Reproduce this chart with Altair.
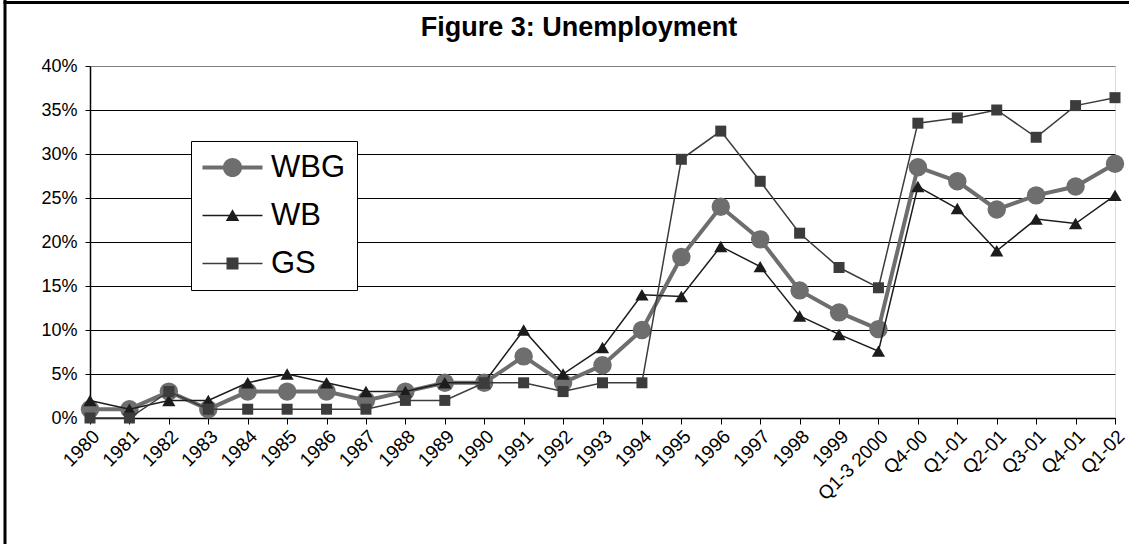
import altair as alt
import pandas as pd

categories = ["1980", "1981", "1982", "1983", "1984", "1985", "1986", "1987", "1988", "1989",
              "1990", "1991", "1992", "1993", "1994", "1995", "1996", "1997", "1998", "1999",
              "Q1-3 2000", "Q4-00", "Q1-01", "Q2-01", "Q3-01", "Q4-01", "Q1-02"]
wbg = [1, 1, 3, 1, 3, 3, 3, 2, 3, 4, 4, 7, 4, 6, 10, 18.3, 24.0, 20.3, 14.5, 12.0, 10.1,
       28.5, 26.9, 23.7, 25.3, 26.3, 28.9]
wb = [2, 1, 2, 2, 4, 5, 4, 3, 3, 4, 4, 10, 5, 8, 14, 13.8, 19.5, 17.2, 11.6, 9.5, 7.6,
      26.3, 23.8, 19.0, 22.6, 22.1, 25.3]
gs = [0, 0, 3, 1, 1, 1, 1, 1, 2, 2, 4, 4, 3, 4, 4, 29.4, 32.6, 26.9, 21.0, 17.1, 14.8,
      33.5, 34.1, 35.0, 31.9, 35.5, 36.4]
series_names = ["WBG", "WB", "GS"]
y_ticks = [0, 5, 10, 15, 20, 25, 30, 35, 40]
title_text = "Figure 3: Unemployment"

colors = {"WBG": "#6e6e6e", "WB": "#1c1c1c", "GS": "#3c3c3c"}
line_widths = {"WBG": 4, "WB": 1.5, "GS": 1.5}
shapes = {"WBG": "circle", "WB": "triangle-up", "GS": "square"}
sizes = {"WBG": 340, "WB": 175, "GS": 121}

# legend symbols: line + marker, drawn as filled paths (unit = 15 px)
legend_paths = [
    "M-1,-0.14H3V0.14H-1Z M0.36,0 A0.64,0.64 0 1,1 1.64,0 A0.64,0.64 0 1,1 0.36,0Z",
    "M-1,-0.05H3V0.05H-1Z M1,-0.42 L1.45,0.36 L0.55,0.36Z",
    "M-1,-0.05H3V0.05H-1Z M0.6,-0.4 H1.4 V0.4 H0.6Z",
]

rows = []
for name, vals in zip(series_names, [wbg, wb, gs]):
    for i, (c, v) in enumerate(zip(categories, vals)):
        rows.append({"series": name, "cat": c, "idx": i, "value": v})
df = pd.DataFrame(rows)

FONT = "Liberation Sans"

x_enc = alt.X(
    "cat:N", sort=categories,
    scale=alt.Scale(type="point", padding=0),
    axis=alt.Axis(title=None, labelAngle=-45, labelFontSize=19, labelFont=FONT,
                  labelColor="black", labelAlign="right", labelBaseline="middle",
                  labelPadding=9, labelOffset=6, tickSize=6, tickColor="black", tickWidth=1,
                  domainColor="black", domainWidth=1.5, labelOverlap=False, grid=False),
)
y_enc = alt.Y(
    "value:Q",
    scale=alt.Scale(domain=[0, 40], nice=False),
    axis=alt.Axis(title=None, values=y_ticks, labelExpr="datum.value + '%'",
                  labelFontSize=18, labelFont=FONT, labelColor="black", labelPadding=8,
                  tickSize=5, tickColor="black", tickWidth=1,
                  domainColor="black", domainWidth=1.5,
                  grid=True, gridWidth=1,
                  gridColor={"condition": {"test": "datum.value >= 40", "value": "#808080"},
                             "value": "#000000"}),
)

layers = []
for name in series_names:
    base = alt.Chart(df).transform_filter(alt.datum.series == name)
    line = base.mark_line(color=colors[name], strokeWidth=line_widths[name]).encode(
        x=x_enc, y=y_enc, order=alt.Order("idx:Q"))
    pts = base.mark_point(filled=True, opacity=1, color=colors[name], shape=shapes[name],
                          size=sizes[name]).encode(x=x_enc, y=y_enc)
    layers += [line, pts]

leg = alt.Legend(title=None, orient="none", legendX=101, legendY=75, direction="vertical",
                 fillColor="white", strokeColor="black", padding=11, rowPadding=16,
                 labelFontSize=31, labelFont=FONT, labelColor="black", labelOffset=38,
                 symbolSize=900, symbolStrokeWidth=0, symbolOpacity=1, labelLimit=0)
legend_layer = alt.Chart(df).transform_filter("false").mark_point(
    filled=True, opacity=1, size=900, strokeWidth=0).encode(
    color=alt.Color("series:N", scale=alt.Scale(domain=series_names,
                                                range=[colors[n] for n in series_names]),
                    legend=leg),
    shape=alt.Shape("series:N", scale=alt.Scale(domain=series_names, range=legend_paths),
                    legend=leg),
)

one = pd.DataFrame({"k": [0]})
frame_left = alt.Chart(one).mark_rule(color="black", strokeWidth=3).encode(
    x=alt.value(-85), y=alt.value(-66), y2=alt.value(480))
frame_top = alt.Chart(one).mark_rule(color="black", strokeWidth=3).encode(
    y=alt.value(-63.5), x=alt.value(-86.5), x2=alt.value(1045))
title_mark = alt.Chart(one).mark_text(
    text=title_text, font=FONT, fontSize=27, fontWeight="bold", color="black",
    align="center", baseline="alphabetic").encode(x=alt.value(489), y=alt.value(-30))

chart = alt.layer(*layers, legend_layer, frame_left, frame_top, title_mark).properties(
    width=1025, height=352,
    autosize=alt.AutoSizeParams(type="none"),
    padding={"left": 90, "top": 66, "right": 14, "bottom": 126},
).configure_view(fill="#C0C0C0", stroke="#808080", strokeWidth=2
).configure(background="white")

chart.save("out.html", embed_options={"renderer": "svg", "actions": False})
